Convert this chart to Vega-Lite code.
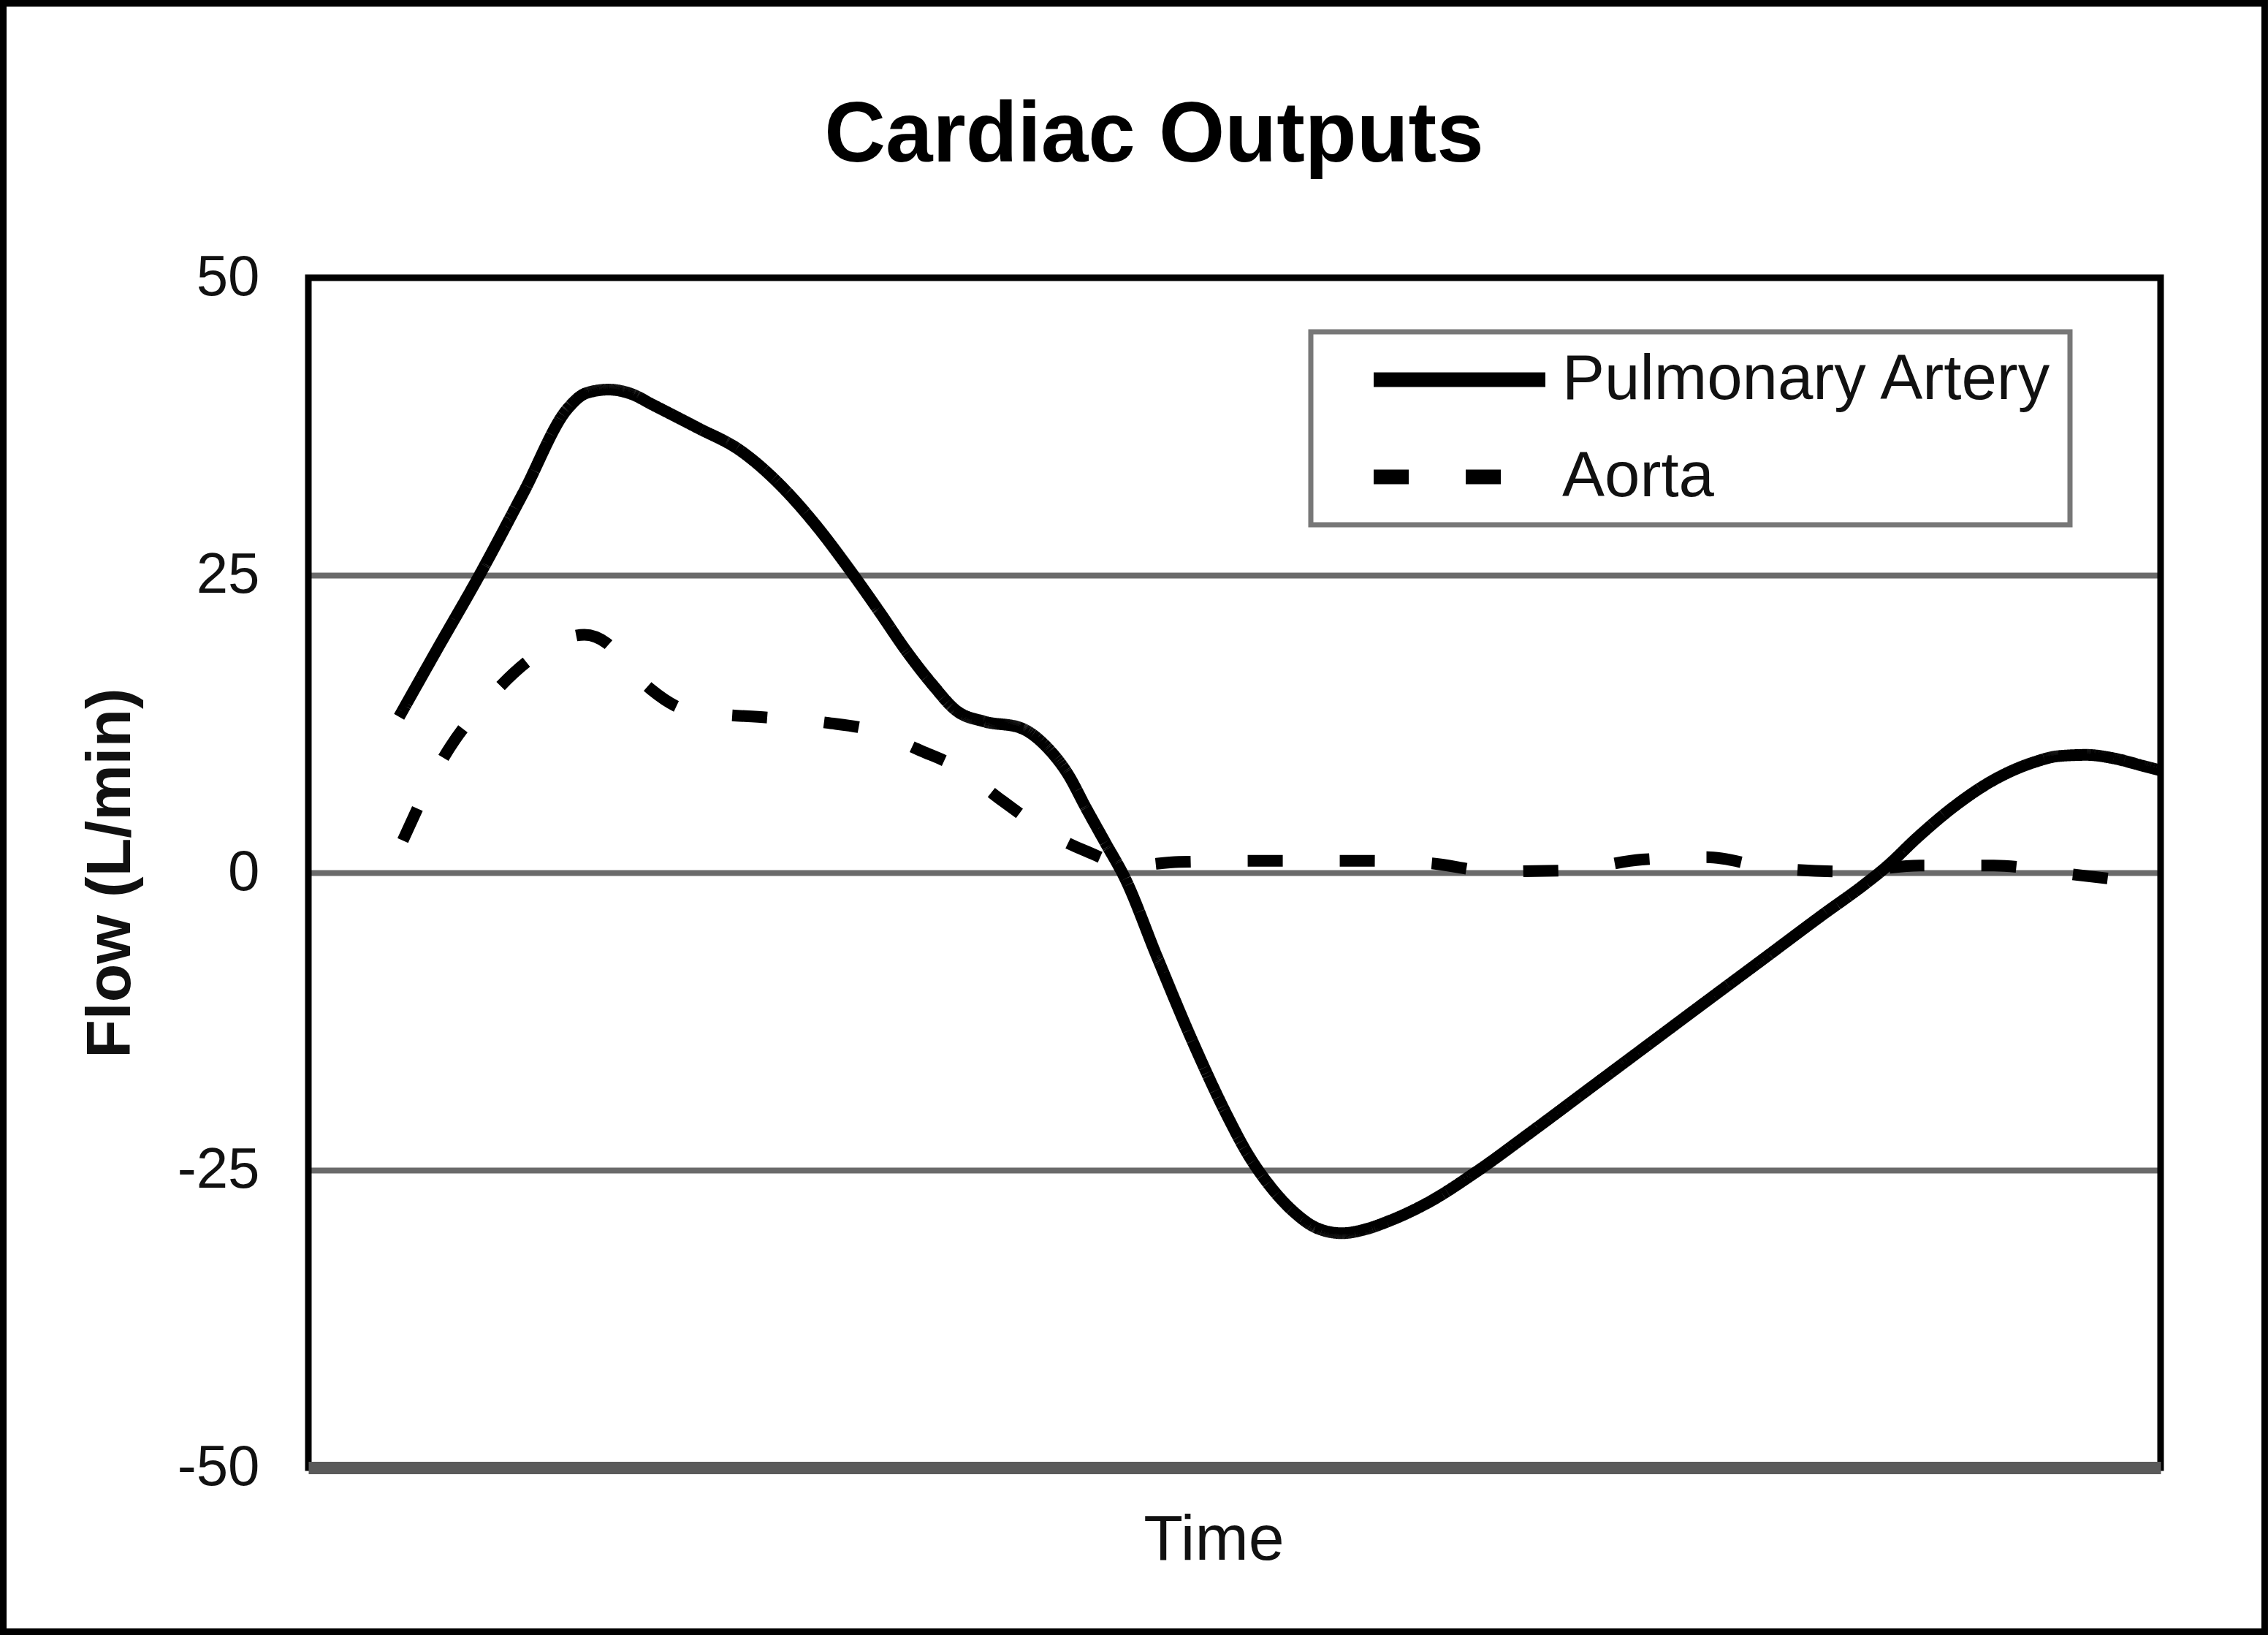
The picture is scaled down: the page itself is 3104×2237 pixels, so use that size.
{
  "$schema": "https://vega.github.io/schema/vega-lite/v6.json",
  "autosize": "none",
  "width": 2535,
  "height": 1628,
  "padding": {"left": 422, "top": 380, "right": 147, "bottom": 229},
  "background": "white",
  "config": {"view": {"stroke": null}, "font": "Liberation Sans"},
  "title": {
    "text": "Cardiac Outputs",
    "fontSize": 116,
    "fontWeight": "bold",
    "color": "#000000",
    "anchor": "middle",
    "frame": "group",
    "baseline": "alphabetic",
    "offset": 0,
    "dx": -110,
    "dy": 337
  },
  "layer": [
    {
      "data": {
        "values": [
          {"series": "Pulmonary Artery", "time": 4.9, "flow": 13.1},
          {"series": "Pulmonary Artery", "time": 7.0, "flow": 18.9},
          {"series": "Pulmonary Artery", "time": 9.2, "flow": 24.9},
          {"series": "Pulmonary Artery", "time": 11.6, "flow": 31.9},
          {"series": "Pulmonary Artery", "time": 14.0, "flow": 39.0},
          {"series": "Pulmonary Artery", "time": 15.0, "flow": 40.3},
          {"series": "Pulmonary Artery", "time": 16.2, "flow": 40.6},
          {"series": "Pulmonary Artery", "time": 17.5, "flow": 40.2},
          {"series": "Pulmonary Artery", "time": 18.5, "flow": 39.4},
          {"series": "Pulmonary Artery", "time": 21.0, "flow": 37.4},
          {"series": "Pulmonary Artery", "time": 23.3, "flow": 35.5},
          {"series": "Pulmonary Artery", "time": 25.4, "flow": 32.7},
          {"series": "Pulmonary Artery", "time": 27.3, "flow": 29.4},
          {"series": "Pulmonary Artery", "time": 29.3, "flow": 25.3},
          {"series": "Pulmonary Artery", "time": 30.8, "flow": 22.0},
          {"series": "Pulmonary Artery", "time": 32.3, "flow": 18.6},
          {"series": "Pulmonary Artery", "time": 33.7, "flow": 15.8},
          {"series": "Pulmonary Artery", "time": 35.0, "flow": 13.6},
          {"series": "Pulmonary Artery", "time": 36.5, "flow": 12.7},
          {"series": "Pulmonary Artery", "time": 38.4, "flow": 12.2},
          {"series": "Pulmonary Artery", "time": 39.9, "flow": 10.5},
          {"series": "Pulmonary Artery", "time": 41.0, "flow": 8.3},
          {"series": "Pulmonary Artery", "time": 42.0, "flow": 5.4},
          {"series": "Pulmonary Artery", "time": 43.0, "flow": 2.6},
          {"series": "Pulmonary Artery", "time": 44.1, "flow": -0.5},
          {"series": "Pulmonary Artery", "time": 45.8, "flow": -7.0},
          {"series": "Pulmonary Artery", "time": 47.8, "flow": -14.4},
          {"series": "Pulmonary Artery", "time": 49.6, "flow": -20.4},
          {"series": "Pulmonary Artery", "time": 50.7, "flow": -23.6},
          {"series": "Pulmonary Artery", "time": 51.9, "flow": -26.3},
          {"series": "Pulmonary Artery", "time": 53.2, "flow": -28.5},
          {"series": "Pulmonary Artery", "time": 54.5, "flow": -29.9},
          {"series": "Pulmonary Artery", "time": 55.8, "flow": -30.3},
          {"series": "Pulmonary Artery", "time": 57.0, "flow": -30.0},
          {"series": "Pulmonary Artery", "time": 58.3, "flow": -29.3},
          {"series": "Pulmonary Artery", "time": 60.6, "flow": -27.6},
          {"series": "Pulmonary Artery", "time": 63.0, "flow": -25.2},
          {"series": "Pulmonary Artery", "time": 66.1, "flow": -21.7},
          {"series": "Pulmonary Artery", "time": 69.2, "flow": -18.1},
          {"series": "Pulmonary Artery", "time": 72.3, "flow": -14.5},
          {"series": "Pulmonary Artery", "time": 75.4, "flow": -10.9},
          {"series": "Pulmonary Artery", "time": 78.6, "flow": -7.2},
          {"series": "Pulmonary Artery", "time": 81.7, "flow": -3.6},
          {"series": "Pulmonary Artery", "time": 84.0, "flow": -1.0},
          {"series": "Pulmonary Artery", "time": 85.2, "flow": 0.5},
          {"series": "Pulmonary Artery", "time": 86.9, "flow": 3.0},
          {"series": "Pulmonary Artery", "time": 88.8, "flow": 5.5},
          {"series": "Pulmonary Artery", "time": 91.0, "flow": 7.8},
          {"series": "Pulmonary Artery", "time": 93.2, "flow": 9.3},
          {"series": "Pulmonary Artery", "time": 94.5, "flow": 9.8},
          {"series": "Pulmonary Artery", "time": 96.0, "flow": 9.9},
          {"series": "Pulmonary Artery", "time": 97.5, "flow": 9.6},
          {"series": "Pulmonary Artery", "time": 99.0, "flow": 9.0},
          {"series": "Pulmonary Artery", "time": 100, "flow": 8.6},
          {"series": "Aorta", "time": 5.1, "flow": 2.7},
          {"series": "Aorta", "time": 7.2, "flow": 9.4},
          {"series": "Aorta", "time": 10.2, "flow": 15.4},
          {"series": "Aorta", "time": 12.5, "flow": 18.5},
          {"series": "Aorta", "time": 14.9, "flow": 20.0},
          {"series": "Aorta", "time": 16.1, "flow": 19.3},
          {"series": "Aorta", "time": 17.3, "flow": 17.2},
          {"series": "Aorta", "time": 18.5, "flow": 15.4},
          {"series": "Aorta", "time": 20.6, "flow": 13.6},
          {"series": "Aorta", "time": 25.1, "flow": 13.0},
          {"series": "Aorta", "time": 28.0, "flow": 12.6},
          {"series": "Aorta", "time": 30.6, "flow": 11.9},
          {"series": "Aorta", "time": 33.0, "flow": 10.3},
          {"series": "Aorta", "time": 35.1, "flow": 8.8},
          {"series": "Aorta", "time": 37.5, "flow": 6.0},
          {"series": "Aorta", "time": 39.9, "flow": 3.4},
          {"series": "Aorta", "time": 42.0, "flow": 1.8},
          {"series": "Aorta", "time": 44.4, "flow": 0.6},
          {"series": "Aorta", "time": 47.0, "flow": 0.9},
          {"series": "Aorta", "time": 52.0, "flow": 1.0},
          {"series": "Aorta", "time": 57.0, "flow": 1.0},
          {"series": "Aorta", "time": 60.5, "flow": 0.8},
          {"series": "Aorta", "time": 64.0, "flow": 0.1},
          {"series": "Aorta", "time": 68.0, "flow": 0.2},
          {"series": "Aorta", "time": 72.0, "flow": 1.1},
          {"series": "Aorta", "time": 75.5, "flow": 1.3},
          {"series": "Aorta", "time": 79.0, "flow": 0.4},
          {"series": "Aorta", "time": 83.0, "flow": 0.1},
          {"series": "Aorta", "time": 87.0, "flow": 0.6},
          {"series": "Aorta", "time": 91.0, "flow": 0.6},
          {"series": "Aorta", "time": 95.0, "flow": -0.1},
          {"series": "Aorta", "time": 100, "flow": -1.0}
        ]
      },
      "mark": {"type": "line", "interpolate": "monotone", "color": "black", "strokeWidth": 16},
      "encoding": {
        "x": {
          "field": "time",
          "type": "quantitative",
          "scale": {"domain": [0, 100], "nice": false, "zero": false},
          "axis": {
            "labels": false,
            "ticks": false,
            "grid": false,
            "domain": true,
            "domainColor": "#5a5a5a",
            "domainWidth": 17,
            "title": "Time",
            "titleFontSize": 88,
            "titleFontWeight": "normal",
            "titleColor": "#111111",
            "titleX": 1239,
            "titleY": 125,
            "titleBaseline": "alphabetic",
            "titleAlign": "center",
            "zindex": 1
          }
        },
        "y": {
          "field": "flow",
          "type": "quantitative",
          "scale": {"domain": [-50, 50], "nice": false, "zero": false},
          "axis": {
            "values": [-50, -25, 0, 25, 50],
            "labelExpr": "'' + datum.value",
            "title": "Flow (L/min)",
            "titleFontSize": 86,
            "titleFontWeight": "bold",
            "titleColor": "#111111",
            "titleX": -245,
            "titleY": 814,
            "titleAngle": 270,
            "titleAlign": "center",
            "titleBaseline": "alphabetic",
            "labelFontSize": 78,
            "labelColor": "#111111",
            "labelPadding": 67,
            "ticks": false,
            "domain": false,
            "grid": true,
            "gridColor": "#6a6a6a",
            "gridWidth": 8,
            "gridOpacity": {"condition": {"test": "abs(datum.value) == 50", "value": 0}, "value": 1}
          }
        },
        "strokeDash": {
          "field": "series",
          "type": "nominal",
          "scale": {"domain": ["Pulmonary Artery", "Aorta"], "range": [[1, 0], [48, 78]]},
          "legend": {
            "title": null,
            "orient": "none",
            "legendX": 1372,
            "legendY": 74,
            "padding": 22,
            "rowPadding": 45,
            "symbolType": "M0.683,0H8.517",
            "symbolSize": 3600,
            "symbolStrokeWidth": 20,
            "symbolStrokeColor": "black",
            "symbolFillColor": "transparent",
            "labelOffset": 235,
            "labelFontSize": 87,
            "labelColor": "#111111",
            "labelLimit": 0,
            "labelExpr": "datum.label + '\u00a0\u00a0\u00a0\u00a0'",
            "strokeColor": "#777777",
            "fillColor": "white",
            "encode": {"legend": {"update": {"strokeWidth": {"value": 7}}}}
          }
        }
      }
    },
    {
      "data": {"values": [{}]},
      "mark": {"type": "rect", "fill": "transparent", "stroke": "black", "strokeWidth": 9},
      "encoding": {
        "x": {"datum": 0, "type": "quantitative"},
        "x2": {"datum": 100},
        "y": {"datum": 50, "type": "quantitative"},
        "y2": {"datum": -50}
      }
    },
    {
      "data": {"values": [{}]},
      "mark": {"type": "rect", "fill": "transparent", "stroke": "black", "strokeWidth": 9},
      "encoding": {
        "x": {"datum": -16.47, "type": "quantitative"},
        "x2": {"datum": 105.62},
        "y": {"datum": 73.06, "type": "quantitative"},
        "y2": {"datum": -63.79}
      }
    }
  ]
}
